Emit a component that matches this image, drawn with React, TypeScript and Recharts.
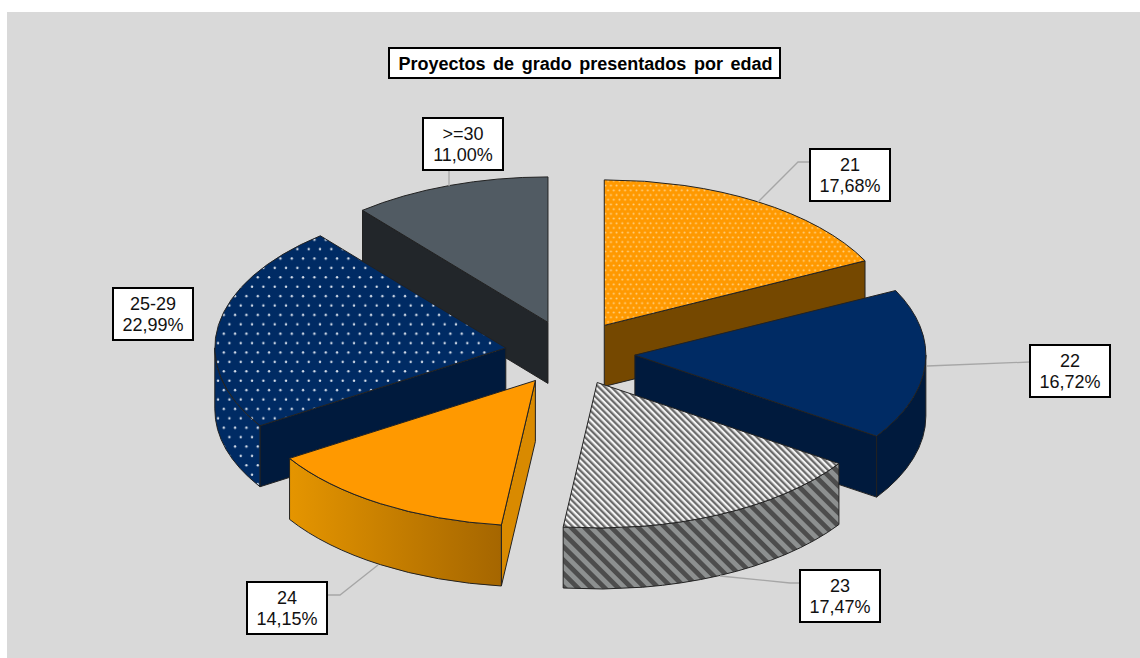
import React from 'react';
import { PieChart, Pie } from 'recharts';

const categories = ['21', '22', '23', '24', '25-29', '>=30'];
const shares = [17.68, 16.72, 17.47, 14.15, 22.99, 11.0];
const shareLabels = ['17,68%', '16,72%', '17,47%', '14,15%', '22,99%', '11,00%'];
const title = 'Proyectos de grado presentados por edad';

const data = categories.map((name, i) => ({ name, value: shares[i], text: shareLabels[i] }));

// slices nearer the viewer go last so they cover the walls behind them
const paintOrder = ['>=30', '21', '22', '25-29', '23', '24'];

const CX = 570;
const CY = 353;
const RADIUS = 291;
const SQUASH = 0.5;
const DEPTH = 61;
const EXPLODE = 65;

const sliceStyles: Record<string, { top: string; edge: string; curve: string }> = {
	'21': { top: 'url(#dotsFine)', edge: '#754800', curve: '#754800' },
	'22': { top: '#002b64', edge: '#001a3d', curve: '#001a3d' },
	'23': { top: 'url(#stripesTop)', edge: '#555555', curve: 'url(#stripesWall)' },
	'24': { top: '#ff9900', edge: '#d98a00', curve: 'url(#orangeWall)' },
	'25-29': { top: 'url(#dotsWide)', edge: '#001a3d', curve: 'url(#dotsWide)' },
	'>=30': { top: '#515b63', edge: '#22262a', curve: '#22262a' },
};

const labelBoxes: Record<string, { x: number; y: number; leader: number[][] }> = {
	'21': { x: 810, y: 149, leader: [[810, 162], [798, 162], [758, 202]] },
	'22': { x: 1030, y: 345, leader: [[1030, 362], [927, 366]] },
	'23': { x: 800, y: 570, leader: [[800, 583], [790, 583], [720, 576]] },
	'24': { x: 247, y: 582, leader: [[328, 595], [340, 595], [378, 565]] },
	'25-29': { x: 113, y: 288, leader: [] },
	'>=30': { x: 423, y: 118, leader: [[449, 169], [449, 186]] },
};

const rad = (deg: number) => (deg * Math.PI) / 180;

function renderSlice(props: any, only: string) {
	const name = props.payload?.name ?? props.name;
	if (name !== only) return <g />;
	const style = sliceStyles[name];
	const mid = rad((props.startAngle + props.endAngle) / 2);
	const ax = props.cx + EXPLODE * Math.cos(mid);
	const ay = props.cy - EXPLODE * SQUASH * Math.sin(mid);
	const rx = props.outerRadius;
	const ry = rx * SQUASH;
	const pt = (deg: number, dy = 0) =>
		`${ax + rx * Math.cos(rad(deg))} ${ay - ry * Math.sin(rad(deg)) + dy}`;
	const arc = (from: number, to: number, sweep: number, dy = 0) =>
		`A ${rx} ${ry} 0 ${Math.abs(to - from) > 180 ? 1 : 0} ${sweep} ${pt(to, dy)}`;
	const { startAngle: a, endAngle: b } = props;

	// the outer wall only shows on the front half of the ellipse (0 to -180 here)
	const wallFrom = Math.min(a, 0);
	const wallTo = Math.max(b, -180);
	const hasWall = wallFrom > wallTo;
	// a cut face shows only when it turns towards the viewer
	const showStart = a < -90;
	const showEnd = b > -90;
	const line = { stroke: '#222222', strokeWidth: 1, strokeLinejoin: 'round' as const };

	return (
		<g>
			{showStart && (
				<path d={`M ${ax} ${ay} L ${pt(a)} L ${pt(a, DEPTH)} L ${ax} ${ay + DEPTH} Z`} fill={style.edge} {...line} />
			)}
			{showEnd && (
				<path d={`M ${ax} ${ay} L ${pt(b)} L ${pt(b, DEPTH)} L ${ax} ${ay + DEPTH} Z`} fill={style.edge} {...line} />
			)}
			{hasWall && (
				<path
					d={`M ${pt(wallFrom)} ${arc(wallFrom, wallTo, 1)} L ${pt(wallTo, DEPTH)} ${arc(wallTo, wallFrom, 0, DEPTH)} Z`}
					fill={style.curve}
					{...line}
				/>
			)}
			<path d={`M ${ax} ${ay} L ${pt(a)} ${arc(a, b, 1)} Z`} fill={style.top} {...line} />
		</g>
	);
}

function renderLeader(props: any) {
	const box = labelBoxes[props.payload?.name ?? props.name];
	if (!box || box.leader.length === 0) return <g />;
	return (
		<polyline
			points={box.leader.map((p) => p.join(',')).join(' ')}
			fill="none"
			stroke="#a6a6a6"
			strokeWidth={1.3}
		/>
	);
}

function renderLabel(props: any) {
	const row = props.payload ?? props;
	const box = labelBoxes[row.name];
	return (
		<g>
			<rect x={box.x} y={box.y} width={80} height={52} fill="#ffffff" stroke="#000000" strokeWidth={2} />
			<text x={box.x + 40} y={box.y + 22} textAnchor="middle" fontSize={18} fill="#111111" fontFamily="Liberation Sans">
				{row.name}
			</text>
			<text x={box.x + 40} y={box.y + 43} textAnchor="middle" fontSize={18} fill="#111111" fontFamily="Liberation Sans">
				{row.text}
			</text>
		</g>
	);
}

export default function App() {
	return (
		<div style={{ position: 'absolute', left: 0, top: 0, width: 1140, height: 658, background: '#ffffff', overflow: 'hidden' }}>
			<div style={{ position: 'absolute', left: 7, top: 12, width: 1133, height: 646, background: '#d9d9d9' }} />
			<div style={{ position: 'absolute', left: 0, top: 0 }}>
				<PieChart width={1140} height={658} margin={{ top: 0, right: 0, bottom: 0, left: 0 }}>
					<defs>
						<pattern id="dotsFine" width={5.67} height={9.4} patternUnits="userSpaceOnUse">
							<rect width={5.67} height={9.4} fill="#ff9900" />
							<circle cx={1.4} cy={2.3} r={1} fill="#ffd48a" />
							<circle cx={4.25} cy={7} r={1} fill="#ffd48a" />
						</pattern>
						<pattern id="dotsWide" width={11.33} height={18.8} patternUnits="userSpaceOnUse">
							<rect width={11.33} height={18.8} fill="#002b64" />
							<circle cx={2.8} cy={4.7} r={1.2} fill="#d8e0ec" />
							<circle cx={8.5} cy={14.1} r={1.2} fill="#d8e0ec" />
						</pattern>
						<pattern id="stripesTop" width={4.5} height={4.5} patternUnits="userSpaceOnUse" patternTransform="rotate(-45)">
							<rect width={4.5} height={4.5} fill="#f2f2f2" />
							<rect width={2.25} height={4.5} fill="#6a6a6a" />
						</pattern>
						<pattern id="stripesWall" width={9.5} height={9.5} patternUnits="userSpaceOnUse" patternTransform="rotate(-45)">
							<rect width={9.5} height={9.5} fill="#8d9090" />
							<rect width={4.75} height={9.5} fill="#4d4d4d" />
						</pattern>
						<linearGradient id="orangeWall" x1="0" y1="0" x2="1" y2="0">
							<stop offset="0%" stopColor="#e59500" />
							<stop offset="100%" stopColor="#a56600" />
						</linearGradient>
					</defs>
					{paintOrder.map((only) => (
						<Pie
							key={only}
							data={data}
							dataKey="value"
							nameKey="name"
							cx={CX}
							cy={CY}
							outerRadius={RADIUS}
							startAngle={90}
							endAngle={-270}
							stroke="none"
							isAnimationActive={false}
							shape={(props: any) => renderSlice(props, only)}
						/>
					))}
					<Pie
						data={data}
						dataKey="value"
						nameKey="name"
						cx={CX}
						cy={CY}
						outerRadius={RADIUS}
						startAngle={90}
						endAngle={-270}
						isAnimationActive={false}
						shape={() => <g />}
						label={renderLabel}
						labelLine={renderLeader}
					/>
					<rect x={389} y={48} width={391} height={30} fill="#ffffff" stroke="#000000" strokeWidth={2} />
					<text x={585.5} y={70} textAnchor="middle" fontSize={18} fontWeight="bold" wordSpacing={2.6} fill="#000000" fontFamily="Liberation Sans">
						{title}
					</text>
				</PieChart>
			</div>
		</div>
	);
}
